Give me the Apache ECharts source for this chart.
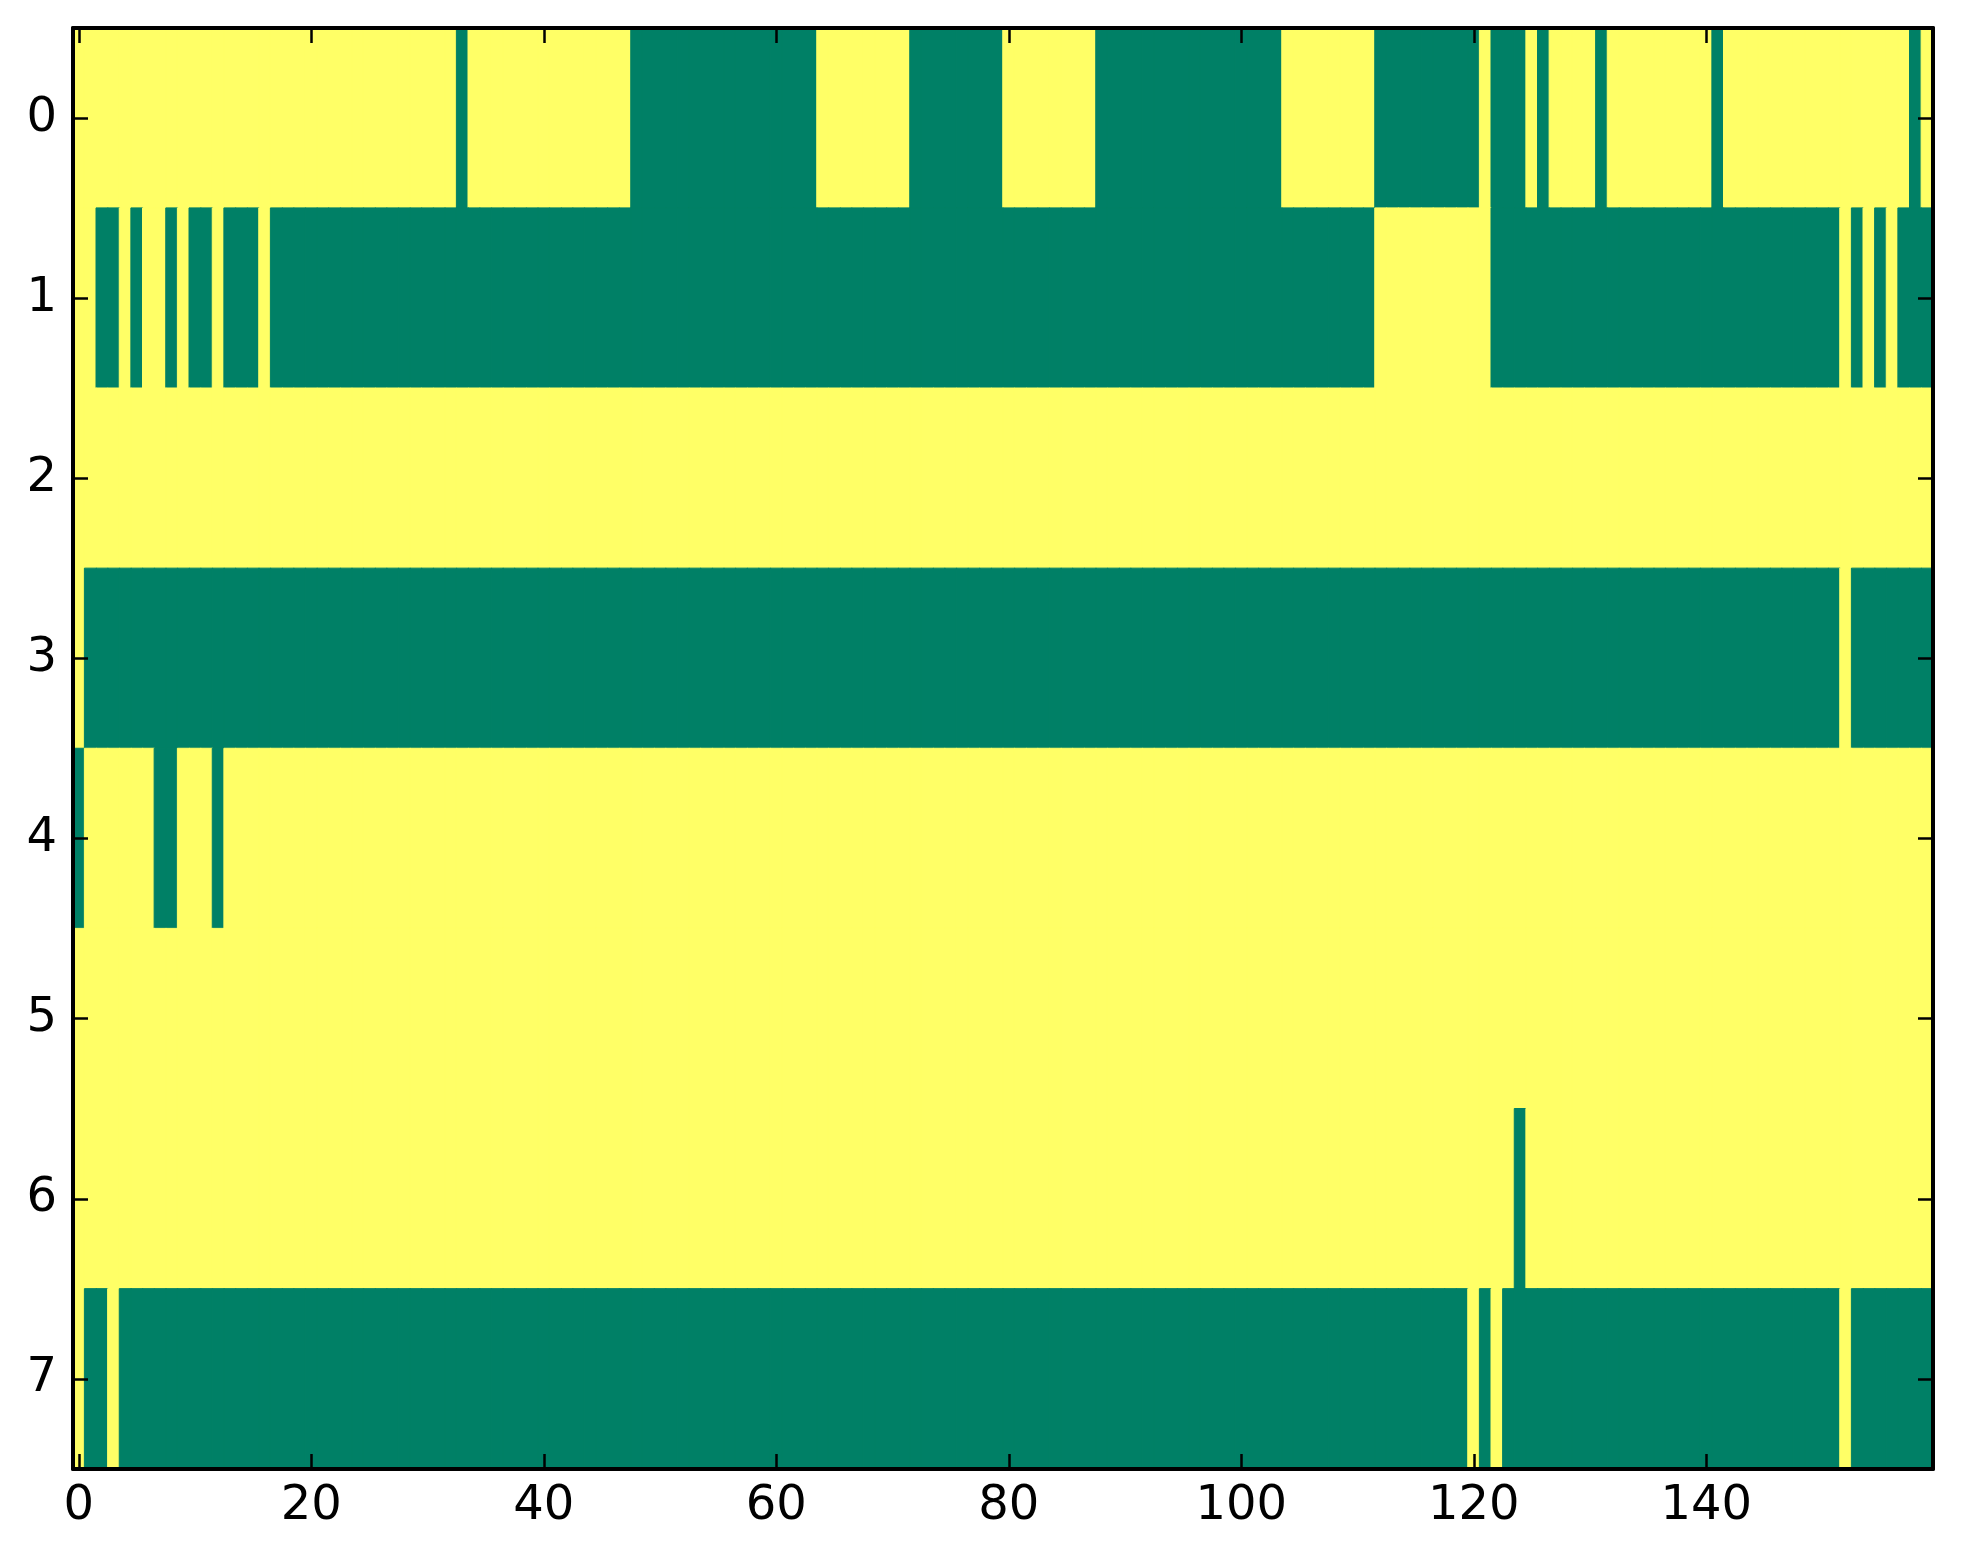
<!DOCTYPE html>
<html>
<head>
<meta charset="utf-8">
<script src="https://cdn.jsdelivr.net/npm/echarts@6/dist/echarts.min.js"></script>
<style>
html,body{margin:0;padding:0;background:#fff;}
#chart{width:1963px;height:1564px;}
</style>
</head>
<body>
<div id="chart"></div>
<script>
// 1 = yellow (high), 0 = green (low); 160 columns per row
const row0 = [
1,1,1,1,1,1,1,1,1,1,1,1,1,1,1,1,1,1,1,1,
1,1,1,1,1,1,1,1,1,1,1,1,1,0,1,1,1,1,1,1,
1,1,1,1,1,1,1,1,0,0,0,0,0,0,0,0,0,0,0,0,
0,0,0,0,1,1,1,1,1,1,1,1,0,0,0,0,0,0,0,0,
1,1,1,1,1,1,1,1,0,0,0,0,0,0,0,0,0,0,0,0,
0,0,0,0,1,1,1,1,1,1,1,1,0,0,0,0,0,0,0,0,
0,1,0,0,0,1,0,1,1,1,1,0,1,1,1,1,1,1,1,1,
1,0,1,1,1,1,1,1,1,1,1,1,1,1,1,1,1,1,0,1];
const row1 = [
1,1,0,0,1,0,1,1,0,1,0,0,1,0,0,0,1,0,0,0,
0,0,0,0,0,0,0,0,0,0,0,0,0,0,0,0,0,0,0,0,
0,0,0,0,0,0,0,0,0,0,0,0,0,0,0,0,0,0,0,0,
0,0,0,0,0,0,0,0,0,0,0,0,0,0,0,0,0,0,0,0,
0,0,0,0,0,0,0,0,0,0,0,0,0,0,0,0,0,0,0,0,
0,0,0,0,0,0,0,0,0,0,0,0,1,1,1,1,1,1,1,1,
1,1,0,0,0,0,0,0,0,0,0,0,0,0,0,0,0,0,0,0,
0,0,0,0,0,0,0,0,0,0,0,0,1,0,1,0,1,0,0,0];
const row2 = [
1,1,1,1,1,1,1,1,1,1,1,1,1,1,1,1,1,1,1,1,
1,1,1,1,1,1,1,1,1,1,1,1,1,1,1,1,1,1,1,1,
1,1,1,1,1,1,1,1,1,1,1,1,1,1,1,1,1,1,1,1,
1,1,1,1,1,1,1,1,1,1,1,1,1,1,1,1,1,1,1,1,
1,1,1,1,1,1,1,1,1,1,1,1,1,1,1,1,1,1,1,1,
1,1,1,1,1,1,1,1,1,1,1,1,1,1,1,1,1,1,1,1,
1,1,1,1,1,1,1,1,1,1,1,1,1,1,1,1,1,1,1,1,
1,1,1,1,1,1,1,1,1,1,1,1,1,1,1,1,1,1,1,1];
const row3 = [
1,0,0,0,0,0,0,0,0,0,0,0,0,0,0,0,0,0,0,0,
0,0,0,0,0,0,0,0,0,0,0,0,0,0,0,0,0,0,0,0,
0,0,0,0,0,0,0,0,0,0,0,0,0,0,0,0,0,0,0,0,
0,0,0,0,0,0,0,0,0,0,0,0,0,0,0,0,0,0,0,0,
0,0,0,0,0,0,0,0,0,0,0,0,0,0,0,0,0,0,0,0,
0,0,0,0,0,0,0,0,0,0,0,0,0,0,0,0,0,0,0,0,
0,0,0,0,0,0,0,0,0,0,0,0,0,0,0,0,0,0,0,0,
0,0,0,0,0,0,0,0,0,0,0,0,1,0,0,0,0,0,0,0];
const row4 = [
0,1,1,1,1,1,1,0,0,1,1,1,0,1,1,1,1,1,1,1,
1,1,1,1,1,1,1,1,1,1,1,1,1,1,1,1,1,1,1,1,
1,1,1,1,1,1,1,1,1,1,1,1,1,1,1,1,1,1,1,1,
1,1,1,1,1,1,1,1,1,1,1,1,1,1,1,1,1,1,1,1,
1,1,1,1,1,1,1,1,1,1,1,1,1,1,1,1,1,1,1,1,
1,1,1,1,1,1,1,1,1,1,1,1,1,1,1,1,1,1,1,1,
1,1,1,1,1,1,1,1,1,1,1,1,1,1,1,1,1,1,1,1,
1,1,1,1,1,1,1,1,1,1,1,1,1,1,1,1,1,1,1,1];
const row5 = [
1,1,1,1,1,1,1,1,1,1,1,1,1,1,1,1,1,1,1,1,
1,1,1,1,1,1,1,1,1,1,1,1,1,1,1,1,1,1,1,1,
1,1,1,1,1,1,1,1,1,1,1,1,1,1,1,1,1,1,1,1,
1,1,1,1,1,1,1,1,1,1,1,1,1,1,1,1,1,1,1,1,
1,1,1,1,1,1,1,1,1,1,1,1,1,1,1,1,1,1,1,1,
1,1,1,1,1,1,1,1,1,1,1,1,1,1,1,1,1,1,1,1,
1,1,1,1,1,1,1,1,1,1,1,1,1,1,1,1,1,1,1,1,
1,1,1,1,1,1,1,1,1,1,1,1,1,1,1,1,1,1,1,1];
const row6 = [
1,1,1,1,1,1,1,1,1,1,1,1,1,1,1,1,1,1,1,1,
1,1,1,1,1,1,1,1,1,1,1,1,1,1,1,1,1,1,1,1,
1,1,1,1,1,1,1,1,1,1,1,1,1,1,1,1,1,1,1,1,
1,1,1,1,1,1,1,1,1,1,1,1,1,1,1,1,1,1,1,1,
1,1,1,1,1,1,1,1,1,1,1,1,1,1,1,1,1,1,1,1,
1,1,1,1,1,1,1,1,1,1,1,1,1,1,1,1,1,1,1,1,
1,1,1,1,0,1,1,1,1,1,1,1,1,1,1,1,1,1,1,1,
1,1,1,1,1,1,1,1,1,1,1,1,1,1,1,1,1,1,1,1];
const row7 = [
1,0,0,1,0,0,0,0,0,0,0,0,0,0,0,0,0,0,0,0,
0,0,0,0,0,0,0,0,0,0,0,0,0,0,0,0,0,0,0,0,
0,0,0,0,0,0,0,0,0,0,0,0,0,0,0,0,0,0,0,0,
0,0,0,0,0,0,0,0,0,0,0,0,0,0,0,0,0,0,0,0,
0,0,0,0,0,0,0,0,0,0,0,0,0,0,0,0,0,0,0,0,
0,0,0,0,0,0,0,0,0,0,0,0,0,0,0,0,0,0,0,0,
1,0,1,0,0,0,0,0,0,0,0,0,0,0,0,0,0,0,0,0,
0,0,0,0,0,0,0,0,0,0,0,0,1,0,0,0,0,0,0,0];

const rows = [row0, row1, row2, row3, row4, row5, row6, row7];
const xCategories = row0.map((_, i) => String(i));
const yCategories = ['0','1','2','3','4','5','6','7'];
const xTickEvery = 20;

const GREEN = '#008066';
const YELLOW = '#ffff66';

const data = [];
rows.forEach((r, y) => r.forEach((v, x) => {
  const c = v === 1 ? YELLOW : GREEN;
  data.push({value: [x, y, v], itemStyle: {color: c, borderColor: c, borderWidth: 1}});
}));

const chart = echarts.init(document.getElementById('chart'), null, {renderer: 'canvas'});
const FONT = 'DejaVu Sans';
const FS = 48;
const lineStyle = {color: '#000', width: 4};
const xInterval = (idx) => idx % xTickEvery === 0;

chart.setOption({
  animation: false,
  backgroundColor: '#fff',
  grid: {left: 73, right: 30, top: 28, bottom: 95, containLabel: false, outerBoundsMode: 'none'},
  xAxis: [
    {type: 'category', data: xCategories, position: 'bottom', z: 10,
     axisLine: {show: true, lineStyle},
     axisTick: {show: true, inside: true, length: 15, alignWithLabel: true, interval: xInterval, lineStyle: {color: '#000', width: 2.5}},
     axisLabel: {show: true, interval: xInterval, fontFamily: FONT, fontSize: FS, color: '#000', margin: 14},
     splitLine: {show: false}},
    {type: 'category', data: xCategories, position: 'top', z: 10,
     axisLine: {show: true, lineStyle},
     axisTick: {show: true, inside: true, length: 15, alignWithLabel: true, interval: xInterval, lineStyle: {color: '#000', width: 2.5}},
     axisLabel: {show: false},
     splitLine: {show: false}}
  ],
  yAxis: [
    {type: 'category', data: yCategories, inverse: true, position: 'left', z: 10,
     axisLine: {show: true, lineStyle},
     axisTick: {show: true, inside: true, length: 15, alignWithLabel: true, lineStyle: {color: '#000', width: 2.5}},
     axisLabel: {show: true, fontFamily: FONT, fontSize: FS, color: '#000', margin: 16},
     splitLine: {show: false}},
    {type: 'category', data: yCategories, inverse: true, position: 'right', z: 10,
     axisLine: {show: true, lineStyle},
     axisTick: {show: true, inside: true, length: 15, alignWithLabel: true, lineStyle: {color: '#000', width: 2.5}},
     axisLabel: {show: false},
     splitLine: {show: false}}
  ],
  series: [{
    type: 'heatmap', xAxisIndex: 0, yAxisIndex: 0,
    data: data,
    emphasis: {disabled: true}
  }]
});
</script>
</body>
</html>
